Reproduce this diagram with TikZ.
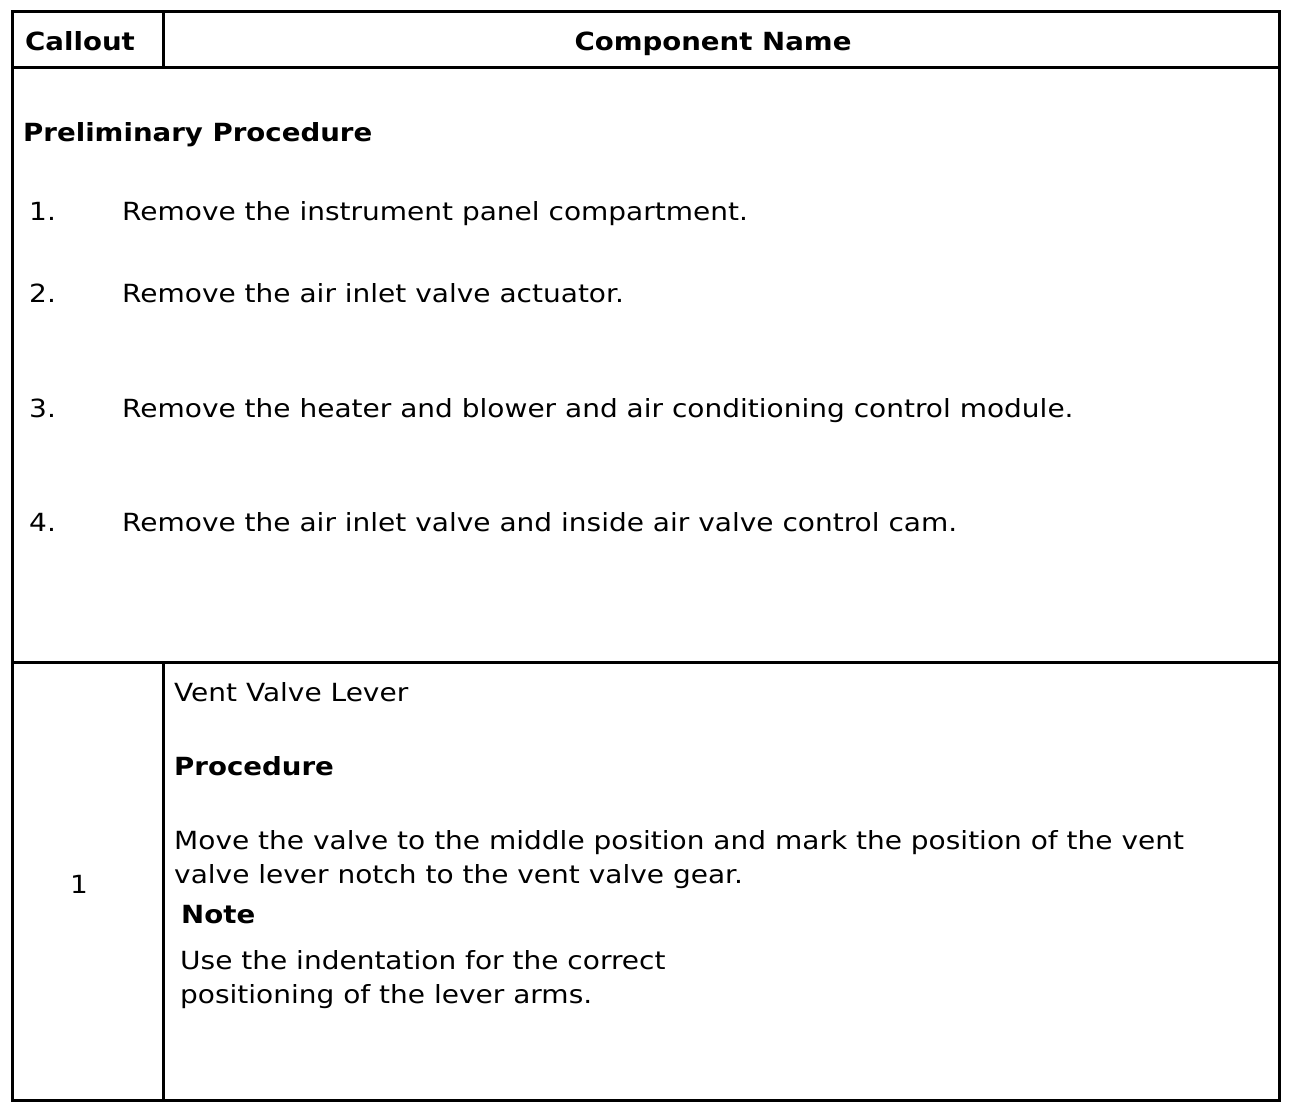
\documentclass[tikz,border=0pt]{standalone}
\usepackage{fontspec}
\setmainfont{DejaVu Sans}[FakeStretch=1.12,BoldFeatures={FakeStretch=1.105}]
\begin{document}
\begin{tikzpicture}[x=1pt,y=-1pt,
  grid/.style={line width=3pt,draw=black},
  txt/.style={anchor=base west,inner sep=0pt,font=\fontsize{25}{30}\selectfont},
  btxt/.style={txt,font=\fontsize{25}{30}\selectfont\bfseries}]
\useasboundingbox (0,0) rectangle (1312,1110);
% table frame
\coordinate (tl) at (12,12);
\coordinate (br) at (1279,1100);
\draw[grid] (tl) rectangle (br);
\draw[grid] (12,68) -- (1279,68);
\draw[grid] (12,662) -- (1279,662);
\draw[grid] (163.5,12) -- (163.5,68);
\draw[grid] (163.5,662) -- (163.5,1100);
% header
\node[btxt] (h1) at (25,51) {Callout};
\node[btxt,anchor=base] (h2) at (713,51) {Component Name};
% preliminary
\node[btxt] (pp) at (23,142) {Preliminary Procedure};
\node[txt] (n1) at (29,221) {1.};
\node[txt] (s1) at (122,221) {Remove the instrument panel compartment.};
\node[txt] (n2) at (29,302) {2.};
\node[txt] (s2) at (122,302) {Remove the air inlet valve actuator.};
\node[txt] (n3) at (29,417) {3.};
\node[txt] (s3) at (122,417) {Remove the heater and blower and air conditioning control module.};
\node[txt] (n4) at (29,531) {4.};
\node[txt] (s4) at (122,531) {Remove the air inlet valve and inside air valve control cam.};
% row 1
\node[txt,anchor=base] (c1) at (79,893) {1};
\node[txt] (vv) at (174,701) {Vent Valve Lever};
\node[btxt] (pr) at (174,775) {Procedure};
\node[txt] (m1) at (174,849) {Move the valve to the middle position and mark the position of the vent};
\node[txt] (m2) at (174,883) {valve lever notch to the vent valve gear.};
\node[btxt] (nt) at (181,923) {Note};
\node[txt] (u1) at (180,969) {Use the indentation for the correct};
\node[txt] (u2) at (180,1003) {positioning of the lever arms.};
\end{tikzpicture}
\end{document}
